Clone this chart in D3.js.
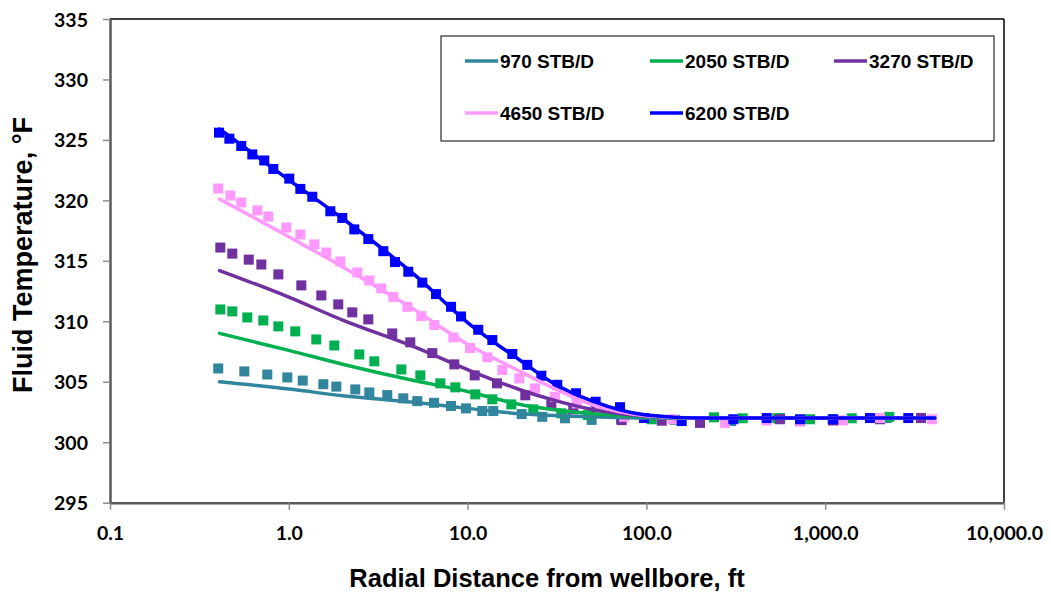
<!DOCTYPE html>
<html>
<head>
<style>
    body { margin: 0; background: #fff; }
    .tick text { font-family: Lato, "Open Sans", sans-serif; font-weight: bold; font-size: 19.5px; fill: #000; }
    .axis-title { font-family: "Liberation Sans", Arial, sans-serif; font-weight: bold; fill: #000; }
    .legend text { font-family: "Liberation Sans", Arial, sans-serif; font-weight: bold; font-size: 19px; fill: #000; }
    .model { fill: none; stroke-width: 3.5px; stroke-linejoin: round; stroke-linecap: round; }
</style>
</head>
<body>
<script src="https://d3js.org/d3.v7.min.js"></script>
<script>
// series labels and colours
var rates = ["970 STB/D", "2050 STB/D", "3270 STB/D", "4650 STB/D", "6200 STB/D"];
var colors = ["#31859C", "#00B050", "#7030A0", "#FF99FF", "#0000FF"];

// x axis ticks (radial distance, ft) and y ticks (temperature, F)
var xTicks = [0.1, 1, 10, 100, 1000, 10000];
var yTicks = [295, 300, 305, 310, 315, 320, 325, 330, 335];

// model curves [r ft, T F]
var model970 = [[0.41,305.0],[1,304.4],[2,303.85],[5,303.3],[10,302.8],[20,302.35],[50,302.1],[100,302.0],[4100,302.0]];
var model2050 = [[0.41,309.0],[1,307.6],[2,306.45],[5,305.1],[10,304.2],[20,303.1],[30,302.7],[50,302.35],[100,302.1],[200,302.0],[4100,302.0]];
var model3270 = [[0.41,314.2],[1,312.0],[2,310.1],[5,307.9],[10,306.0],[20,304.3],[30,303.5],[50,302.7],[100,302.15],[200,302.0],[4100,302.0]];
var model4650 = [[0.41,320.1],[1,317.0],[2,314.5],[5,311.0],[10,308.1],[20,305.8],[30,304.5],[50,303.1],[100,302.2],[200,302.0],[4100,302.0]];
var model6200 = [[0.41,325.9],[1,321.7],[2,318.5],[5,313.9],[10,309.9],[20,306.7],[30,304.9],[50,303.4],[100,302.25],[200,302.0],[4100,302.0]];

// simulated points [r ft, T F]
var obs970 = [[0.403,306.1],[0.564,305.86],[0.758,305.6],[0.981,305.36],[1.196,305.1],[1.56,304.8],[1.844,304.6],[2.355,304.37],
    [2.82,304.12],[3.555,303.9],[4.37,303.63],[5.23,303.4],[6.49,303.26],[8.08,303.0],[9.8,302.8],[12.08,302.58],[13.92,302.58],
    [20.07,302.33],[26.17,302.1],[35.05,301.98],[49.4,301.85],[72.1,301.9],[144.5,301.85],[297,301.75],[560,302.0],
    [1100,301.9],[2208,302.0],[3434,302.0]];
var obs2050 = [[0.414,310.98],[0.483,310.82],[0.586,310.32],[0.72,310.07],[0.874,309.58],[1.087,309.17],[1.425,308.5],[1.797,308.0],
    [2.48,307.26],[3.008,306.69],[4.26,306.02],[5.44,305.53],[7.04,304.87],[8.54,304.54],[11.04,303.96],[13.75,303.55],
    [17.56,303.13],[23.3,302.72],[33.4,302.39],[47.1,302.25],[107,301.9],[238.8,302.06],[345.6,301.98],[539.7,301.98],
    [822,301.9],[1407,301.98],[2283,302.1]];
var obs3270 = [[0.414,316.1],[0.483,315.6],[0.597,315.1],[0.702,314.7],[0.874,313.88],[1.175,312.97],[1.52,312.14],[1.891,311.4],
    [2.265,310.74],[2.784,310.16],[3.79,309.0],[4.78,308.26],[6.35,307.37],[8.43,306.44],[10.96,305.53],[14.6,304.87],
    [21.02,303.88],[29.4,303.1],[39.0,302.72],[52.7,302.52],[72.8,301.83],[121.8,301.78],[199.4,301.6],[558,301.9],
    [1106,301.8],[2025,301.9],[3434,302.0]];
var obs4650 = [[0.403,320.98],[0.471,320.4],[0.542,319.83],[0.667,319.17],[0.768,318.67],[0.968,317.76],[1.16,317.18],[1.389,316.36],
    [1.621,315.69],[1.941,314.95],[2.416,314.04],[2.82,313.38],[3.29,312.72],[3.84,312.02],[4.6,311.2],[5.51,310.43],
    [6.51,309.69],[8.32,308.67],[10.31,307.79],[12.89,307.02],[15.64,305.97],[19.46,305.28],[23.82,304.45],[30.8,303.76],
    [40.75,303.21],[55,302.6],[75,302.1],[140,301.9],[275,301.6],[470,301.8],[723,301.7],[1258,301.8],[2025,302.0],[3958,301.9]];
var obs6200 = [[0.407,325.6],[0.465,325.1],[0.542,324.5],[0.625,323.8],[0.729,323.3],[0.819,322.6],[1.006,321.8],[1.16,320.95],
    [1.353,320.3],[1.707,319.1],[1.991,318.55],[2.324,317.6],[2.784,316.8],[3.377,315.8],[3.926,314.9],[4.66,314.1],
    [5.58,313.2],[6.66,312.25],[8.08,311.2],[9.19,310.4],[11.47,309.3],[13.75,308.45],[17.78,307.3],[21.57,306.4],
    [25.84,305.5],[31.74,304.75],[40.4,304.05],[52.0,303.35],[71.2,302.9],[97.0,302.0],[157.6,301.75],[306,301.9],
    [471,302.0],[723,301.9],[1110,301.9],[1780,302.0],[2916,302.0]];

var models = [model970, model2050, model3270, model4650, model6200];
var observed = [obs970, obs2050, obs3270, obs4650, obs6200];

var W = 1051, H = 593;
var plot = { left: 110, right: 1004, top: 19, bottom: 502.7 };

var svg = d3.select("body").append("svg")
    .attr("width", W)
    .attr("height", H);

svg.append("rect").attr("width", W).attr("height", H).attr("fill", "#fff");

var x = d3.scaleLog()
    .domain([0.1, 10000])
    .range([plot.left, plot.right]);

var y = d3.scaleLinear()
    .domain([295, 335])
    .range([plot.bottom, plot.top]);

// top and right frame
svg.append("line")
    .attr("x1", plot.left).attr("x2", plot.right)
    .attr("y1", plot.top).attr("y2", plot.top)
    .attr("stroke", "#000").attr("stroke-width", 1.5);
svg.append("line")
    .attr("x1", plot.right).attr("x2", plot.right)
    .attr("y1", plot.top).attr("y2", plot.bottom)
    .attr("stroke", "#000").attr("stroke-width", 1.5);

var xAxis = d3.axisBottom(x)
    .tickValues(xTicks)
    .tickFormat(d3.format(",.1f"))
    .tickSizeInner(7)
    .tickSizeOuter(0)
    .tickPadding(16);

var yAxis = d3.axisLeft(y)
    .tickValues(yTicks)
    .tickSizeInner(7)
    .tickSizeOuter(0)
    .tickPadding(15);

var gx = svg.append("g")
    .attr("transform", "translate(0," + plot.bottom + ")")
    .call(xAxis);
var gy = svg.append("g")
    .attr("transform", "translate(" + plot.left + ",0)")
    .call(yAxis);

[gx, gy].forEach(function(g) {
    g.select(".domain").attr("stroke", "#595959").attr("stroke-width", 2.5);
    g.selectAll(".tick line").attr("stroke", "#8c8c8c").attr("stroke-width", 1.5);
});
gy.selectAll(".tick text").attr("dy", "0.36em");

// simulated points
observed.forEach(function(pts, i) {
    svg.append("g")
        .selectAll("rect")
        .data(pts)
        .join("rect")
        .attr("x", function(d) { return x(d[0]) - 5; })
        .attr("y", function(d) { return y(d[1]) - 5; })
        .attr("width", 10)
        .attr("height", 10)
        .attr("fill", colors[i]);
});

var line = d3.line()
    .x(function(d) { return x(d[0]); })
    .y(function(d) { return y(d[1]); })
    .curve(d3.curveMonotoneX);

models.forEach(function(pts, i) {
    svg.append("path")
        .datum(pts)
        .attr("class", "model")
        .attr("stroke", colors[i])
        .attr("d", line);
});

// axis titles
svg.append("text")
    .attr("class", "axis-title")
    .attr("x", 547)
    .attr("y", 587)
    .attr("text-anchor", "middle")
    .style("font-size", "25.5px")
    .text("Radial Distance from wellbore, ft");

svg.append("text")
    .attr("class", "axis-title")
    .attr("transform", "translate(32,255) rotate(-90)")
    .attr("text-anchor", "middle")
    .style("font-size", "27px")
    .text("Fluid Temperature, \u00B0F");

// legend
var legend = svg.append("g").attr("class", "legend");
legend.append("rect")
    .attr("x", 441).attr("y", 36)
    .attr("width", 553).attr("height", 105)
    .attr("fill", "#fff")
    .attr("stroke", "#000")
    .attr("stroke-width", 1);

var legendPos = [[465, 61], [650, 61], [834, 61], [465, 113], [650, 113]];
rates.forEach(function(name, i) {
    var p = legendPos[i];
    legend.append("line")
        .attr("x1", p[0]).attr("x2", p[0] + 33)
        .attr("y1", p[1]).attr("y2", p[1])
        .attr("stroke", colors[i])
        .attr("stroke-width", 3.5);
    legend.append("text")
        .attr("x", p[0] + 35)
        .attr("y", p[1] + 7)
        .text(name);
});
</script>
</body>
</html>
